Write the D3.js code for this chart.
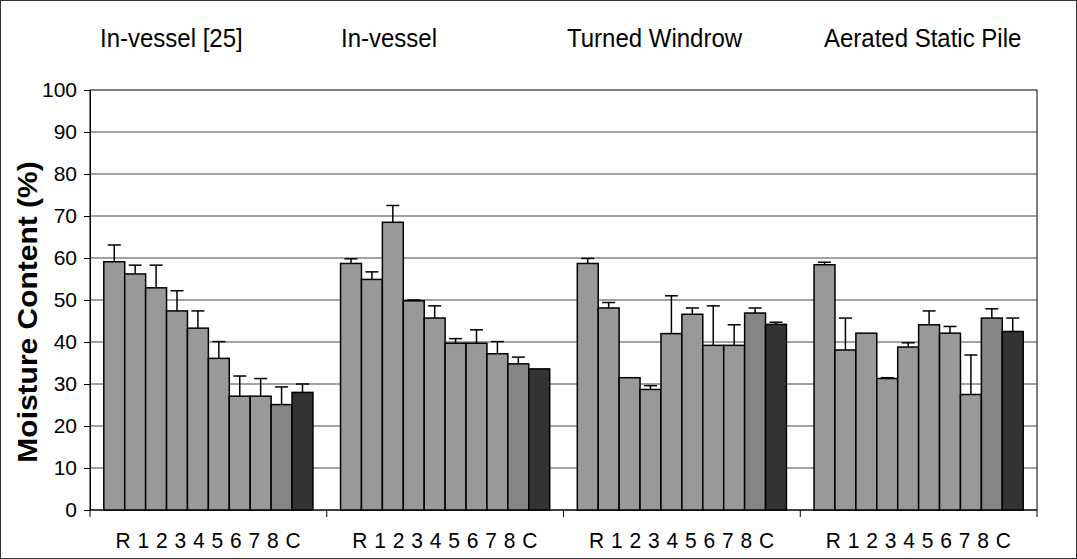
<!DOCTYPE html>
<html lang="en">
<head>
    <meta charset="UTF-8">
    <title>Moisture Content</title>
    <script src="https://d3js.org/d3.v7.min.js"></script>
    <style>
        body {
            margin: 0;
            padding: 0;
            background-color: #fff;
            font-family: Arial, "Liberation Sans", sans-serif;
        }
        svg { display: block; }
    </style>
</head>
<body>
    <svg width="1077" height="559"></svg>
    <script>
        // Data
        const groups = ["In-vessel [25]", "In-vessel", "Turned Windrow", "Aerated Static Pile"];
        const series = ["R", "1", "2", "3", "4", "5", "6", "7", "8", "C"];

        const inVessel25 = [59.1, 56.2, 52.9, 47.4, 43.3, 36.1, 27.1, 27.1, 25.1, 28.0];
        const inVessel = [58.7, 54.9, 68.5, 49.8, 45.7, 39.7, 39.7, 37.2, 34.8, 33.6];
        const turnedWindrow = [58.7, 48.1, 31.5, 28.7, 42.0, 46.6, 39.2, 39.2, 46.9, 44.2];
        const aeratedPile = [58.4, 38.1, 42.1, 31.3, 38.8, 44.1, 42.1, 27.5, 45.7, 42.5];

        const inVessel25Err = [4.0, 2.1, 5.4, 4.8, 4.1, 4.0, 4.8, 4.2, 4.2, 2.0];
        const inVesselErr = [1.1, 1.8, 4.0, 0.2, 2.9, 1.1, 3.2, 2.9, 1.6, 0];
        const turnedWindrowErr = [1.2, 1.3, 0, 0.9, 9.0, 1.5, 9.4, 4.9, 1.2, 0.5];
        const aeratedPileErr = [0.6, 7.6, 0, 0.2, 1.0, 3.3, 1.6, 9.4, 2.2, 3.2];

        const yTicks = [0, 10, 20, 30, 40, 50, 60, 70, 80, 90, 100];

        const values = [inVessel25, inVessel, turnedWindrow, aeratedPile];
        const errors = [inVessel25Err, inVesselErr, turnedWindrowErr, aeratedPileErr];

        // Layout
        const svg = d3.select("svg"),
            margin = { top: 90, right: 40, bottom: 49, left: 90 },
            width = 1077 - margin.left - margin.right,
            height = 559 - margin.top - margin.bottom;

        // title offsets (hand placed text boxes in the original)
        const titleX = [100, 341, 567, 824];

        // outer frame
        svg.append("rect")
            .attr("x", 0.5).attr("y", 0.5)
            .attr("width", 1076).attr("height", 558)
            .attr("fill", "#fff")
            .attr("stroke", "#333");

        const g = svg.append("g")
            .attr("transform", `translate(${margin.left},${margin.top})`);

        // Scales
        const x0 = d3.scaleBand().domain(groups).range([0, width]).padding(0);
        const x1 = d3.scaleBand().domain(series).range([0, x0.bandwidth()])
            .paddingInner(0).paddingOuter(0.66);
        const y = d3.scaleLinear().domain([0, 100]).range([height, 0]);

        const fill = s => s === "C" ? "#333333" : (s === "8" ? "#858585" : "#999999");

        // plot border
        g.append("rect")
            .attr("width", width).attr("height", height)
            .attr("fill", "none").attr("stroke", "#000");

        // gridlines
        g.selectAll(".grid")
            .data(yTicks.slice(1, -1))
            .enter().append("line")
            .attr("x1", 0).attr("x2", width)
            .attr("y1", d => y(d)).attr("y2", d => y(d))
            .attr("stroke", "#444").attr("stroke-width", 1);

        // y axis
        const yAxis = g.append("g")
            .call(d3.axisLeft(y).tickValues(yTicks).tickSize(6).tickPadding(7));
        yAxis.select(".domain").attr("stroke", "#000");
        yAxis.selectAll("text")
            .attr("font-size", 21)
            .attr("font-family", "Arial, 'Liberation Sans', sans-serif")
            .attr("fill", "#000");

        // x axis: ticks at group boundaries
        const xAxisG = g.append("g").attr("transform", `translate(0,${height})`);
        xAxisG.append("line")
            .attr("x1", 0).attr("x2", width)
            .attr("stroke", "#000");
        const bounds = groups.map(d => x0(d)).concat([width]);
        xAxisG.selectAll(".tick")
            .data(bounds)
            .enter().append("line")
            .attr("x1", d => d).attr("x2", d => d)
            .attr("y1", 0).attr("y2", 7)
            .attr("stroke", "#000");
        xAxisG.selectAll(".cat")
            .data(groups)
            .enter().append("text")
            .attr("transform", d => `translate(${x0(d) + x0.bandwidth() / 2},38) scale(1,1.08)`)
            .attr("text-anchor", "middle")
            .attr("font-size", 21)
            .attr("letter-spacing", 0.5)
            .text(series.join(" "));

        // bars
        const grp = g.selectAll(".group")
            .data(groups)
            .enter().append("g")
            .attr("transform", d => `translate(${x0(d)},0)`);

        grp.selectAll("rect")
            .data((d, i) => series.map((s, j) => ({ s, v: values[i][j], e: errors[i][j] })))
            .enter().append("rect")
            .attr("x", d => x1(d.s))
            .attr("y", d => y(d.v))
            .attr("width", x1.bandwidth())
            .attr("height", d => height - y(d.v))
            .attr("fill", d => fill(d.s))
            .attr("stroke", "#000")
            .attr("stroke-width", 1.5);

        // error bars (upper only)
        const eb = grp.selectAll(".err")
            .data((d, i) => series.map((s, j) => ({ s, v: values[i][j], e: errors[i][j] })).filter(d => d.e > 0))
            .enter().append("g");
        eb.append("line")
            .attr("x1", d => x1(d.s) + x1.bandwidth() / 2)
            .attr("x2", d => x1(d.s) + x1.bandwidth() / 2)
            .attr("y1", d => y(d.v))
            .attr("y2", d => y(d.v + d.e))
            .attr("stroke", "#000").attr("stroke-width", 1.5);
        eb.append("line")
            .attr("x1", d => x1(d.s) + x1.bandwidth() / 2 - 6.5)
            .attr("x2", d => x1(d.s) + x1.bandwidth() / 2 + 6.5)
            .attr("y1", d => y(d.v + d.e))
            .attr("y2", d => y(d.v + d.e))
            .attr("stroke", "#000").attr("stroke-width", 1.5);

        // group titles
        svg.selectAll(".title")
            .data(groups)
            .enter().append("text")
            .attr("transform", (d, i) => `translate(${titleX[i]},47) scale(1,1.1)`)
            .attr("font-size", 24)
            .text(d => d);

        // y axis title
        svg.append("text")
            .attr("transform", "translate(37,312) rotate(-90) scale(1.11,1)")
            .attr("text-anchor", "middle")
            .attr("font-size", 27)
            .attr("font-weight", "bold")
            .text("Moisture Content (%)");
    </script>
</body>
</html>
